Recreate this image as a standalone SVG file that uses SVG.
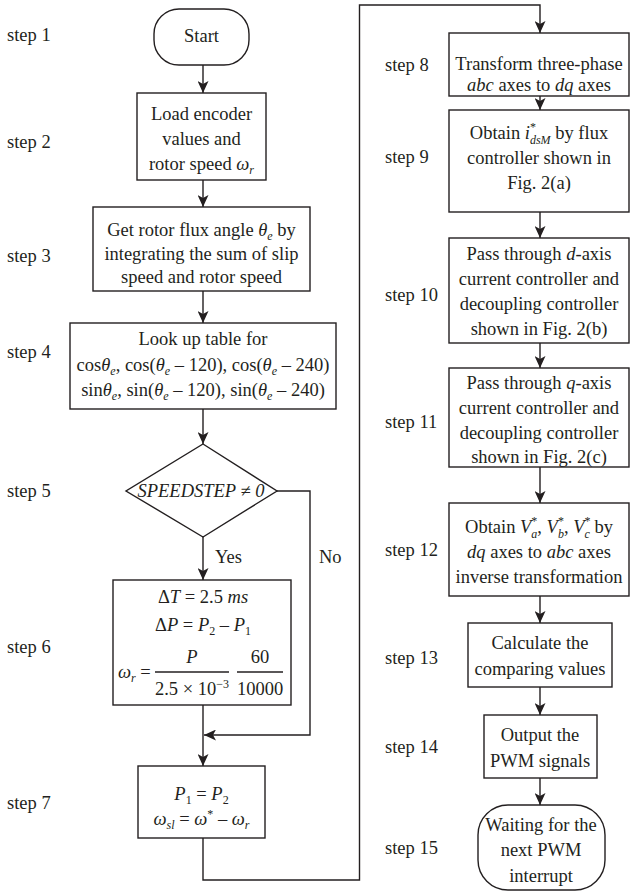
<svg xmlns="http://www.w3.org/2000/svg" width="631" height="893" viewBox="0 0 631 893">
<style>
.t{font-family:"Liberation Serif","Times New Roman",serif;font-size:18.5px;fill:#231f20}
.m{text-anchor:middle}
.i{font-style:italic}
.s{font-size:12px}
.box{fill:#fff;stroke:#231f20;stroke-width:1.4}
.ln{fill:none;stroke:#231f20;stroke-width:1.4}
</style>
<defs>
<marker id="ah" markerUnits="userSpaceOnUse" markerWidth="12" markerHeight="11" refX="12" refY="5.5" orient="auto">
<path d="M0,0 L12,5.5 L0,11 L3,5.5 z" fill="#231f20"/>
</marker>
</defs>
<rect width="631" height="893" fill="#fff"/>

<g id="labels" class="t">
<text x="7" y="41">step 1</text>
<text x="7" y="148">step 2</text>
<text x="7" y="262">step 3</text>
<text x="7" y="358">step 4</text>
<text x="7" y="497">step 5</text>
<text x="7" y="653">step 6</text>
<text x="7" y="809">step 7</text>
<text x="385" y="71">step 8</text>
<text x="385" y="163">step 9</text>
<text x="385" y="301">step 10</text>
<text x="385" y="428">step 11</text>
<text x="385" y="556">step 12</text>
<text x="385" y="664">step 13</text>
<text x="385" y="753">step 14</text>
<text x="385" y="854">step 15</text>
</g>

<g id="connectors">
<line class="ln" x1="203" y1="65" x2="203" y2="93" marker-end="url(#ah)"/>
<line class="ln" x1="203" y1="180" x2="203" y2="207" marker-end="url(#ah)"/>
<line class="ln" x1="203" y1="291" x2="203" y2="323" marker-end="url(#ah)"/>
<line class="ln" x1="203" y1="409" x2="203" y2="444" marker-end="url(#ah)"/>
<line class="ln" x1="203" y1="537" x2="203" y2="580" marker-end="url(#ah)"/>
<line class="ln" x1="203" y1="705" x2="203" y2="766" marker-end="url(#ah)"/>
<polyline class="ln" points="277,491 310,491 310,735 204,735" marker-end="url(#ah)"/>
<polyline class="ln" points="203,838 203,880 359.5,880 359.5,5 540,5 540,33" marker-end="url(#ah)"/>
<line class="ln" x1="540" y1="96" x2="540" y2="110" marker-end="url(#ah)"/>
<line class="ln" x1="540" y1="212" x2="540" y2="238" marker-end="url(#ah)"/>
<line class="ln" x1="540" y1="343" x2="540" y2="368" marker-end="url(#ah)"/>
<line class="ln" x1="540" y1="467" x2="540" y2="503" marker-end="url(#ah)"/>
<line class="ln" x1="540" y1="596" x2="540" y2="623" marker-end="url(#ah)"/>
<line class="ln" x1="540" y1="687" x2="540" y2="715" marker-end="url(#ah)"/>
<line class="ln" x1="540" y1="778" x2="540" y2="805" marker-end="url(#ah)"/>
<text class="t" x="215" y="563">Yes</text>
<text class="t" x="319" y="563">No</text>
</g>

<g id="step1">
<rect class="box" x="154" y="9" width="95" height="56" rx="25"/>
<text class="t m" x="201.5" y="42">Start</text>
</g>

<g id="step2">
<rect class="box" x="137" y="93" width="129" height="87"/>
<text class="t m" x="201.5" y="120">Load encoder</text>
<text class="t m" x="201.5" y="145">values and</text>
<text class="t m" x="201.5" y="170">rotor speed <tspan class="i">ω</tspan><tspan class="s i" dy="4">r</tspan></text>
</g>

<g id="step3">
<rect class="box" x="93" y="207" width="217" height="84"/>
<text class="t m" x="201.5" y="236">Get rotor flux angle <tspan class="i">θ</tspan><tspan class="s i" dy="4">e</tspan><tspan dy="-4"> by</tspan></text>
<text class="t m" x="201.5" y="260">integrating the sum of slip</text>
<text class="t m" x="201.5" y="283">speed and rotor speed</text>
</g>

<g id="step4">
<rect class="box" x="70" y="323" width="266" height="86"/>
<text class="t m" x="203" y="345">Look up table for</text>
<text class="t m" x="203" y="371">cos<tspan class="i">θ</tspan><tspan class="s i" dy="4">e</tspan><tspan dy="-4">, cos(</tspan><tspan class="i">θ</tspan><tspan class="s i" dy="4">e</tspan><tspan dy="-4"> – 120), cos(</tspan><tspan class="i">θ</tspan><tspan class="s i" dy="4">e</tspan><tspan dy="-4"> – 240)</tspan></text>
<text class="t m" x="203" y="396">sin<tspan class="i">θ</tspan><tspan class="s i" dy="4">e</tspan><tspan dy="-4">, sin(</tspan><tspan class="i">θ</tspan><tspan class="s i" dy="4">e</tspan><tspan dy="-4"> – 120), sin(</tspan><tspan class="i">θ</tspan><tspan class="s i" dy="4">e</tspan><tspan dy="-4"> – 240)</tspan></text>
</g>

<g id="step5">
<polygon class="box" points="203,444 277,491 203,537 126,491"/>
<text class="t m i" x="201" y="497">SPEEDSTEP ≠ 0</text>
</g>

<g id="step6">
<rect class="box" x="113" y="580" width="178" height="125"/>
<text class="t m" x="203" y="603">Δ<tspan class="i">T</tspan> = 2.5 <tspan class="i">ms</tspan></text>
<text class="t m" x="203" y="631">Δ<tspan class="i">P</tspan> = <tspan class="i">P</tspan><tspan class="s" dy="4">2</tspan><tspan dy="-4"> – </tspan><tspan class="i">P</tspan><tspan class="s" dy="4">1</tspan></text>
<text class="t" x="118" y="678"><tspan class="i">ω</tspan><tspan class="s i" dy="4">r</tspan><tspan dy="-4"> =</tspan></text>
<text class="t m i" x="192" y="663">P</text>
<line class="ln" x1="155" y1="672" x2="229" y2="672"/>
<text class="t m" x="192" y="695">2.5 × 10<tspan class="s" dy="-7">−3</tspan></text>
<text class="t m" x="260" y="663">60</text>
<line class="ln" x1="237" y1="672" x2="283" y2="672"/>
<text class="t m" x="260" y="695">10000</text>
</g>

<g id="step7">
<rect class="box" x="138" y="766" width="127" height="72"/>
<text class="t m" x="201.5" y="800"><tspan class="i">P</tspan><tspan class="s" dy="4">1</tspan><tspan dy="-4"> = </tspan><tspan class="i">P</tspan><tspan class="s" dy="4">2</tspan></text>
<text class="t m" x="201.5" y="825"><tspan class="i">ω</tspan><tspan class="s i" dy="4">sl</tspan><tspan dy="-4"> = </tspan><tspan class="i">ω</tspan><tspan class="s" dy="-7">*</tspan><tspan dy="7"> – </tspan><tspan class="i">ω</tspan><tspan class="s i" dy="4">r</tspan></text>
</g>

<g id="step8">
<rect class="box" x="449" y="33" width="180" height="63"/>
<text class="t m" x="539" y="70">Transform three-phase</text>
<text class="t m" x="539" y="91"><tspan class="i">abc</tspan> axes to <tspan class="i">dq</tspan> axes</text>
</g>

<g id="step9">
<rect class="box" x="449" y="110" width="180" height="102"/>
<text class="t m" x="539" y="139">Obtain <tspan class="i">i</tspan><tspan class="s" dy="-8.5">*</tspan><tspan class="s i" dx="-6" dy="13.5">dsM</tspan><tspan dy="-5"> by flux</tspan></text>
<text class="t m" x="539" y="164">controller shown in</text>
<text class="t m" x="539" y="189">Fig. 2(a)</text>
</g>

<g id="step10">
<rect class="box" x="449" y="238" width="180" height="105"/>
<text class="t m" x="539" y="260">Pass through <tspan class="i">d</tspan>-axis</text>
<text class="t m" x="539" y="285">current controller and</text>
<text class="t m" x="539" y="310">decoupling controller</text>
<text class="t m" x="539" y="335">shown in Fig. 2(b)</text>
</g>

<g id="step11">
<rect class="box" x="449" y="368" width="180" height="99"/>
<text class="t m" x="539" y="389">Pass through <tspan class="i">q</tspan>-axis</text>
<text class="t m" x="539" y="414">current controller and</text>
<text class="t m" x="539" y="439">decoupling controller</text>
<text class="t m" x="539" y="463">shown in Fig. 2(c)</text>
</g>

<g id="step12">
<rect class="box" x="449" y="503" width="180" height="93"/>
<text class="t m" x="539" y="533">Obtain <tspan class="i">V</tspan><tspan class="s" dy="-8.5">*</tspan><tspan class="s i" dx="-6" dy="13.5">a</tspan><tspan dy="-5">, </tspan><tspan class="i">V</tspan><tspan class="s" dy="-8.5">*</tspan><tspan class="s i" dx="-6" dy="13.5">b</tspan><tspan dy="-5">, </tspan><tspan class="i">V</tspan><tspan class="s" dy="-8.5">*</tspan><tspan class="s i" dx="-6" dy="13.5">c</tspan><tspan dy="-5"> by</tspan></text>
<text class="t m" x="539" y="558"><tspan class="i">dq</tspan> axes to <tspan class="i">abc</tspan> axes</text>
<text class="t m" x="539" y="583">inverse transformation</text>
</g>

<g id="step13">
<rect class="box" x="468" y="623" width="144" height="64"/>
<text class="t m" x="540" y="649">Calculate the</text>
<text class="t m" x="540" y="675">comparing values</text>
</g>

<g id="step14">
<rect class="box" x="484" y="715" width="113" height="63"/>
<text class="t m" x="540" y="741">Output the</text>
<text class="t m" x="540" y="767">PWM signals</text>
</g>

<g id="step15">
<rect class="box" x="478" y="805" width="127" height="85" rx="30"/>
<text class="t m" x="541" y="831">Waiting for the</text>
<text class="t m" x="541" y="856">next PWM</text>
<text class="t m" x="541" y="882">interrupt</text>
</g>
</svg>
